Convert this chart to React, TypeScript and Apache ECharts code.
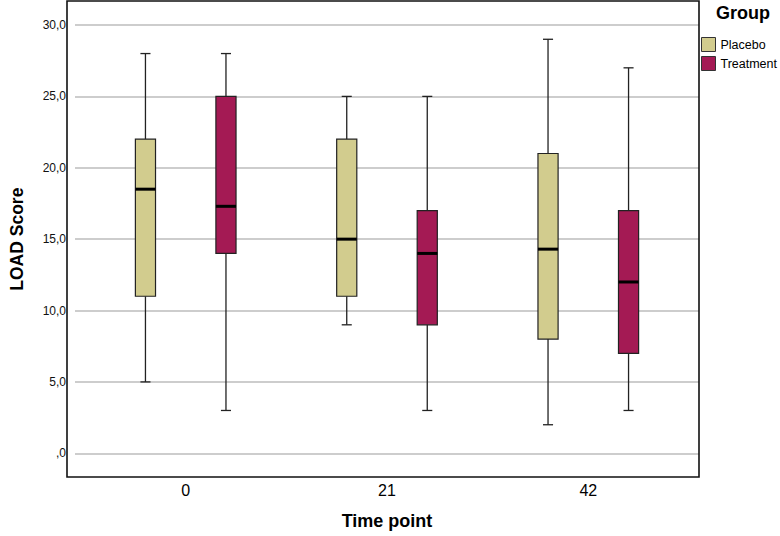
import React, { useEffect, useRef } from "react";
import * as echarts from "echarts";

const categories = ["0", "21", "42"];
// [min, Q1, median, Q3, max]
const placebo = [
  [5, 11, 18.5, 22, 28],
  [9, 11, 15, 22, 25],
  [2, 8, 14.3, 21, 29],
];
const treatment = [
  [3, 14, 17.3, 25, 28],
  [3, 9, 14, 17, 25],
  [3, 7, 12, 17, 27],
];
const seriesNames = ["Placebo", "Treatment"];
const seriesColors = ["#D2CC8E", "#A41A54"];
const yTicks = [0, 5, 10, 15, 20, 25, 30];

const FONT = "'Liberation Sans', Arial, Helvetica, sans-serif";

function fmtY(v: number): string {
  const s = v.toFixed(1).replace(".", ",");
  return s.startsWith("0,") ? s.slice(1) : s;
}

function makeRender(offsetFrac: number) {
  return (params: any, api: any) => {
    const x = api.value(0);
    const mn = api.value(1);
    const q1 = api.value(2);
    const med = api.value(3);
    const q3 = api.value(4);
    const mx = api.value(5);
    const bw = api.size([1, 0])[0];
    const cx = api.coord([x, 0])[0] + offsetFrac * bw;
    const yMin = api.coord([x, mn])[1];
    const yQ1 = api.coord([x, q1])[1];
    const yMed = api.coord([x, med])[1];
    const yQ3 = api.coord([x, q3])[1];
    const yMax = api.coord([x, mx])[1];
    const half = bw * 0.05;
    const cap = bw * 0.025;
    const color = api.visual("color");
    const ws = { stroke: "#222", lineWidth: 1.3 };
    return {
      type: "group",
      children: [
        { type: "line", shape: { x1: cx, y1: yMax, x2: cx, y2: yQ3 }, style: ws },
        { type: "line", shape: { x1: cx, y1: yQ1, x2: cx, y2: yMin }, style: ws },
        { type: "line", shape: { x1: cx - cap, y1: yMax, x2: cx + cap, y2: yMax }, style: ws },
        { type: "line", shape: { x1: cx - cap, y1: yMin, x2: cx + cap, y2: yMin }, style: ws },
        {
          type: "rect",
          shape: { x: cx - half, y: yQ3, width: half * 2, height: yQ1 - yQ3 },
          style: { fill: color, stroke: "#222", lineWidth: 1.2 },
        },
        {
          type: "line",
          shape: { x1: cx - half, y1: yMed, x2: cx + half, y2: yMed },
          style: { stroke: "#000", lineWidth: 3 },
        },
      ],
    };
  };
}

export default function App() {
  const ref = useRef<HTMLDivElement>(null);
  useEffect(() => {
    if (!ref.current) return;
    const chart = echarts.init(ref.current, undefined, { renderer: "svg" });
    const groups = [placebo, treatment];
    chart.setOption({
      animation: false,
      backgroundColor: "#ffffff",
      textStyle: { fontFamily: FONT },
      title: {
        text: "Group",
        left: 716,
        top: 4,
        padding: 0,
        textStyle: { fontFamily: FONT, fontSize: 18, fontWeight: "bold", color: "#000" },
      },
      legend: {
        data: seriesNames,
        orient: "vertical",
        left: 701,
        top: 37,
        padding: 0,
        icon: "rect",
        itemWidth: 14,
        itemHeight: 14,
        itemGap: 4,
        itemStyle: { borderColor: "#333", borderWidth: 1 },
        textStyle: { fontFamily: FONT, fontSize: 12.5, color: "#000" },
        selectedMode: false,
      },
      grid: { left: 67, right: 81, top: 25, bottom: 82.7, containLabel: false },
      xAxis: {
        type: "value",
        min: -0.55,
        max: 2.55,
        name: "Time point",
        nameLocation: "middle",
        nameGap: 59,
        nameTextStyle: { fontFamily: FONT, fontSize: 18, fontWeight: "bold", color: "#000" },
        axisLine: { show: false },
        axisTick: { show: false },
        splitLine: { show: false },
        axisLabel: {
          customValues: [0, 1, 2],
          formatter: (v: number) => categories[Math.round(v)] ?? "",
          fontFamily: FONT,
          fontSize: 16,
          color: "#000",
          margin: 29,
        },
      },
      yAxis: {
        type: "value",
        min: 0,
        max: 30,
        interval: 5,
        name: "LOAD Score",
        nameLocation: "middle",
        nameGap: 49,
        nameTextStyle: { fontFamily: FONT, fontSize: 17.5, fontWeight: "bold", color: "#000" },
        axisLine: { show: false },
        axisTick: { show: false },
        splitLine: { show: true, lineStyle: { color: "#BDBDBD", width: 1.5 } },
        axisLabel: {
          formatter: (v: number) => (yTicks.includes(v) ? fmtY(v) : ""),
          fontFamily: FONT,
          fontSize: 12,
          color: "#111",
          margin: 9,
        },
      },
      graphic: [
        {
          type: "rect",
          z: 100,
          shape: { x: 67, y: 1, width: 632, height: 476 },
          style: { fill: "none", stroke: "#111", lineWidth: 1.6 },
          silent: true,
        },
      ],
      series: seriesNames.map((name, si) => ({
        type: "custom",
        name,
        itemStyle: { color: seriesColors[si] },
        encode: { x: 0, y: [1, 2, 3, 4, 5] },
        data: groups[si].map((d, i) => [i, ...d]),
        renderItem: makeRender(si === 0 ? -0.2 : 0.2),
        z: 5,
      })),
    });
    return () => chart.dispose();
  }, []);
  return (
    <div
      ref={ref}
      style={{ position: "fixed", left: 0, top: 0, width: 780, height: 536 }}
    />
  );
}
